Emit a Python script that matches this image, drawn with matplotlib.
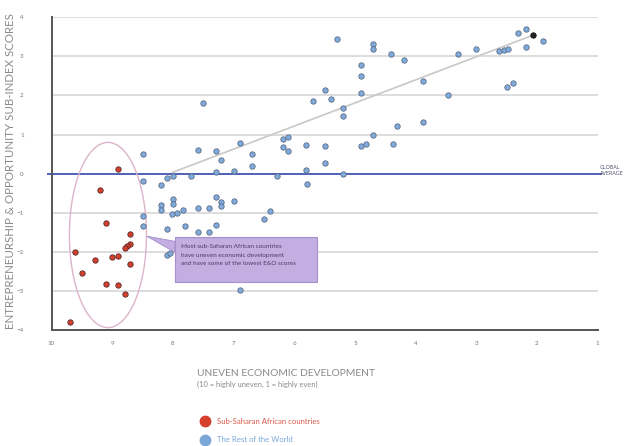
import matplotlib
matplotlib.use("Agg")
import matplotlib.pyplot as plt
from matplotlib.patches import Ellipse, Polygon, Rectangle

# ---- data ----
ssa_x = [8.90, 9.20, 9.10, 8.71, 8.71, 8.76, 8.79, 8.90, 9.01, 9.61, 9.29, 8.70, 9.50, 9.10, 8.90, 8.79, 9.70]
ssa_y = [0.11, -0.41, -1.25, -1.55, -1.79, -1.85, -1.89, -2.10, -2.13, -2.00, -2.21, -2.30, -2.55, -2.83, -2.85, -3.08, -3.80]

row_x = [8.49, 8.49, 8.49, 8.49, 8.20, 8.10, 8.00, 7.70, 8.20, 8.20,
         8.00, 8.00, 8.01, 7.93, 7.83, 7.59, 7.40, 7.29, 7.21, 7.20,
         7.00, 6.50, 6.40, 8.10, 7.80, 7.59, 7.40, 7.29, 8.10, 8.05,
         6.89, 7.29, 7.00, 6.29, 5.79, 7.59, 7.29, 7.20, 6.89, 6.69,
         6.69, 7.50, 6.18, 6.10, 6.18, 6.10, 5.80, 5.80, 5.49, 5.49,
         5.19, 5.69, 5.49, 5.39, 5.19, 5.19, 5.30, 4.90, 4.90, 4.90,
         4.90, 4.81, 4.71, 4.71, 4.70, 4.40, 4.38, 4.30, 4.19, 3.88,
         3.88, 3.46, 3.30, 3.00, 2.63, 2.55, 2.48, 2.50, 2.40, 2.31,
         2.18, 2.18, 1.90]
row_y = [0.49, -0.18, -1.08, -1.33, -0.30, -0.11, -0.07, -0.06, -0.81, -0.94,
         -0.66, -0.77, -1.04, -1.00, -0.94, -0.87, -0.87, -0.60, -0.72, -0.83,
         -0.71, -1.15, -0.95, -1.42, -1.34, -1.49, -1.49, -1.32, -2.08, -2.04,
         -2.98, 0.03, 0.08, -0.06, -0.26, 0.61, 0.59, 0.36, 0.78, 0.51,
         0.20, 1.81, 0.89, 0.93, 0.68, 0.59, 0.74, 0.10, 0.70, 0.28,
         -0.02, 1.86, 2.13, 1.90, 1.68, 1.47, 3.44, 2.79, 2.51, 2.06,
         0.70, 0.75, 3.32, 3.18, 1.00, 3.05, 0.77, 1.23, 2.92, 2.36,
         1.32, 2.02, 3.06, 3.20, 3.15, 3.16, 3.19, 2.21, 2.33, 3.60,
         3.70, 3.23, 3.40]

end_x = [2.07]
end_y = [3.54]

trend_x = [8.01, 2.07]
trend_y = [0.03, 3.54]

x_ticks = [10, 9, 8, 7, 6, 5, 4, 3, 2, 1]
y_ticks = [-4, -3, -2, -1, 0, 1, 2, 3, 4]

ylabel = "ENTREPRENEURSHIP & OPPORTUNITY SUB-INDEX SCORES"
xlabel1 = "UNEVEN ECONOMIC DEVELOPMENT"
xlabel2 = "(10 = highly uneven, 1 = highly even)"
legend_labels = ["Sub-Saharan African countries", "The Rest of the World"]
callout = ("Most sub-Saharan African countries\n"
           "have uneven economic development\n"
           "and have some of the lowest E&O scores")

plt.rcParams['font.family'] = ['Lato', 'DejaVu Sans']

W, H = 633, 446
fig = plt.figure(figsize=(W / 100, H / 100), dpi=100)
ax = fig.add_axes([51.5 / W, 1 - 330 / H, (597.7 - 51.5) / W, (330 - 17.3) / H])
ax.set_xlim(10, 1)
ax.set_ylim(-4, 4)

# grid lines
for yv in y_ticks[1:]:
    if yv == 0:
        continue
    ax.axhline(yv, color='#dadada', lw=1.3, zorder=1)
ax.plot([-0.006, 1.006], [0, 0], transform=ax.get_yaxis_transform(),
        color='#5060b8', lw=1.4, zorder=2, clip_on=False)

for s in ['top', 'right']:
    ax.spines[s].set_visible(False)
for s in ['left', 'bottom']:
    ax.spines[s].set_color('#555555')
    ax.spines[s].set_linewidth(1.4)

ax.set_xticks(x_ticks)
ax.set_yticks(y_ticks)
ax.tick_params(axis='both', length=0, labelsize=4.5, labelcolor='#777777')
ax.tick_params(axis='y', pad=20)
ax.tick_params(axis='x', pad=8)

# trend line
ax.plot(trend_x, trend_y, color='#c8c8c8', lw=1.2, zorder=3)

# ellipse
ax.add_patch(Ellipse((9.07, -1.57), 1.27, 4.74, fill=False,
                     edgecolor='#dcb4cc', lw=1.0, zorder=2))

# points
ax.scatter(row_x, row_y, s=15, color='#80aadb', edgecolor='#5b6e88', lw=0.6, zorder=5)
ax.scatter(ssa_x, ssa_y, s=15, color='#d4402c', edgecolor='#5a2a2a', lw=0.6, zorder=5)
ax.scatter(end_x, end_y, s=15, color='#222222', edgecolor='#111111', lw=0.6, zorder=6)

# callout
ax.add_patch(Polygon([(8.43, -1.60), (7.97, -1.73), (7.97, -2.01)], closed=True,
                     facecolor='#c3aee2', edgecolor='#a58fcc', lw=0.6, zorder=7))
ax.add_patch(Rectangle((7.97, -2.76), 5.63 - 7.97, 1.15,
                       facecolor='#c3aee2', edgecolor='#a58fcc', lw=0.8, zorder=7))
ax.text(7.86, -1.80, callout, fontsize=4.6, color='#4a3a66', va='top', ha='left',
        linespacing=1.9, zorder=8)

# global average label
ax.text(1.004, 0.09, "GLOBAL\nAVERAGE", transform=ax.get_yaxis_transform(),
        fontsize=3.8, color='#555577', va='center', ha='left', linespacing=1.2)

# axis titles
fig.text(11 / W, 1 - 171 / H, ylabel, rotation=90, fontsize=8.3, color='#8a8a8a',
         ha='center', va='center')
fig.text(197 / W, 1 - 373 / H, xlabel1, fontsize=7.4, color='#8a8a8a', ha='left', va='center')
fig.text(197 / W, 1 - 384 / H, xlabel2, fontsize=5.4, color='#8a8a8a', ha='left', va='center')

# legend
leg_colors = ['#d4402c', '#7aa6d8']
leg_text_colors = ['#d85a48', '#7aa6d8']
leg_y = [1 - 421 / H, 1 - 440 / H]
for lab, c, tc, yy in zip(legend_labels, leg_colors, leg_text_colors, leg_y):
    fig.add_artist(plt.Line2D([205 / W], [yy], marker='o', markersize=7.5,
                              markerfacecolor=c, markeredgecolor=c, lw=0,
                              transform=fig.transFigure))
    fig.text(217 / W, yy, lab, fontsize=5.6, color=tc, ha='left', va='center')

fig.savefig("out.png", dpi=100)
